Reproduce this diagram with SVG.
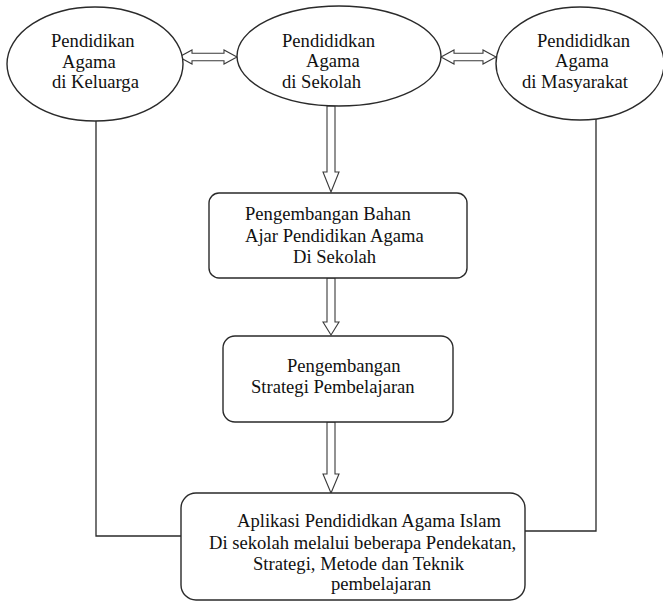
<svg xmlns="http://www.w3.org/2000/svg" width="663" height="602" viewBox="0 0 663 602">
  <style>
    .shape { fill: #ffffff; stroke: #2a2a2a; stroke-width: 1.4; }
    .link { fill: none; stroke: #2a2a2a; stroke-width: 1.3; }
    .block { fill: #ffffff; stroke: #3a3a3a; stroke-width: 1.1; stroke-linejoin: miter; }
    .label { font-family: 'Liberation Serif', 'Times New Roman', serif; font-size: 18.6px; fill: #111111; }
  </style>

  <!-- plain connectors from the outer ellipses to the application box -->
  <g id="connectors">
    <path class="link" d="M96 121 V536 H181"/>
    <path class="link" d="M596 118 V531 H525"/>
    <!-- double-headed block arrows between the ellipses -->
    <polygon class="block" points="179,57 192,50 192,53.3 224,53.3 224,50 237,57 224,64 224,60.7 192,60.7 192,64"/>
    <polygon class="block" points="441,57 454,50 454,53.3 483,53.3 483,50 496,57 483,64 483,60.7 454,60.7 454,64"/>
    <!-- downward block arrows -->
    <polygon class="block" points="327,106 335,106 335,172 339,172 331,192 323,172 327,172"/>
    <polygon class="block" points="327,278 335,278 335,322 339,322 331,335 323,322 327,322"/>
    <polygon class="block" points="327,422 335,422 335,474 339,474 331,493 323,474 327,474"/>
  </g>

  <g id="keluarga" class="label">
    <ellipse class="shape" cx="95" cy="64" rx="88" ry="57"/>
    <text x="51" y="47">Pendidikan</text>
    <text x="62" y="68">Agama</text>
    <text x="52" y="88">di Keluarga</text>
  </g>

  <g id="sekolah" class="label">
    <ellipse class="shape" cx="339" cy="56" rx="102" ry="50"/>
    <text x="282" y="47">Pendididkan</text>
    <text x="306" y="67">Agama</text>
    <text x="282" y="88">di Sekolah</text>
  </g>

  <g id="masyarakat" class="label">
    <ellipse class="shape" cx="580" cy="63.5" rx="84" ry="56.5"/>
    <text x="537" y="47">Pendididkan</text>
    <text x="555" y="67">Agama</text>
    <text x="522" y="88">di Masyarakat</text>
  </g>

  <g id="bahan-ajar" class="label">
    <rect class="shape" x="209" y="193" width="258" height="85" rx="10"/>
    <text x="245" y="220">Pengembangan Bahan</text>
    <text x="245" y="242">Ajar Pendidikan Agama</text>
    <text x="293" y="263">Di Sekolah</text>
  </g>

  <g id="strategi" class="label">
    <rect class="shape" x="223" y="336" width="230" height="86" rx="12"/>
    <text x="287" y="372">Pengembangan</text>
    <text x="251" y="393">Strategi Pembelajaran</text>
  </g>

  <g id="aplikasi" class="label">
    <rect class="shape" x="181" y="493" width="344" height="107" rx="15"/>
    <text x="237" y="527">Aplikasi Pendididkan Agama Islam</text>
    <text x="209" y="549">Di sekolah melalui beberapa Pendekatan,</text>
    <text x="253" y="570">Strategi, Metode dan Teknik</text>
    <text x="331" y="590">pembelajaran</text>
  </g>
</svg>
